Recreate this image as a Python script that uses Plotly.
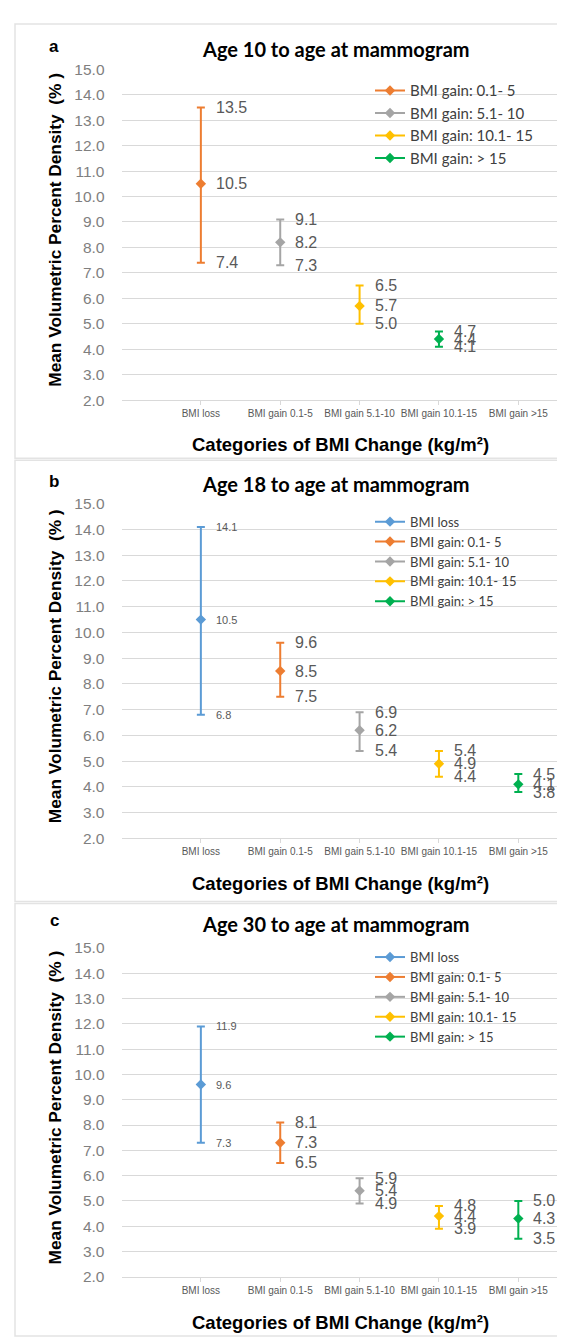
import plotly.graph_objects as go

W, H = 565, 1337

# ---------------- data ----------------
categories = ["BMI loss", "BMI gain 0.1-5", "BMI gain 5.1-10", "BMI gain 10.1-15", "BMI gain >15"]
series_names = ["BMI loss", "BMI gain: 0.1- 5", "BMI gain: 5.1- 10", "BMI gain: 10.1- 15", "BMI gain: > 15"]
series_colors = ["#5B9BD5", "#ED7D31", "#A5A5A5", "#FFC000", "#00B050"]

titles = ["Age 10 to age at mammogram", "Age 18 to age at mammogram", "Age 30 to age at mammogram"]
panel_letters = ["a", "b", "c"]
y_title = "Mean Volumetric Percent Density  (% )"
x_title = "Categories of BMI Change (kg/m²)"
y_ticks = [2, 3, 4, 5, 6, 7, 8, 9, 10, 11, 12, 13, 14, 15]

# panel a: four series (legend entries 0.1-5 ... >15) drawn at the first four categories
a_series = [1, 2, 3, 4]
a_cat = [0, 1, 2, 3]
a_mean = [10.5, 8.2, 5.7, 4.4]
a_low = [7.4, 7.3, 5.0, 4.1]
a_high = [13.5, 9.1, 6.5, 4.7]

# panel b
b_series = [0, 1, 2, 3, 4]
b_cat = [0, 1, 2, 3, 4]
b_mean = [10.5, 8.5, 6.2, 4.9, 4.1]
b_low = [6.8, 7.5, 5.4, 4.4, 3.8]
b_high = [14.1, 9.6, 6.9, 5.4, 4.5]

# panel c
c_series = [0, 1, 2, 3, 4]
c_cat = [0, 1, 2, 3, 4]
c_mean = [9.6, 7.3, 5.4, 4.4, 4.3]
c_low = [7.3, 6.5, 4.9, 3.9, 3.5]
c_high = [11.9, 8.1, 5.9, 4.8, 5.0]

panels = [
    (a_series, a_cat, a_mean, a_low, a_high),
    (b_series, b_cat, b_mean, b_low, b_high),
    (c_series, c_cat, c_mean, c_low, c_high),
]

# ---------------- layout geometry (pixels) ----------------
plot_left, plot_right = 113.5, 550
plot_tops = [53, 493, 943]
plot_bottoms = [388, 832, 1276]
boxes = [(7, 447), (449, 896), (898, 1336)]
letter_y = [30, 470, 915]
title_y = [32, 473, 919]
xtitle_y = [433, 878, 1322]
legend_top = [58, 496, 937]
legend_font = [15, 13, 13]

LABEL_GRAY = "#595959"
TICK_GRAY = "#7F7F7F"
GRID = "#D9D9D9"


def px(x):
    return x / W


def py(y):
    return 1 - y / H


fig = go.Figure()
annotations = []
shapes = []

for p, (ser, cat, mean, low, high) in enumerate(panels):
    xa = "x" if p == 0 else f"x{p+1}"
    ya = "y" if p == 0 else f"y{p+1}"
    lg = "legend" if p == 0 else f"legend{p+1}"
    for k in range(len(ser)):
        s = ser[k]
        fig.add_trace(go.Scatter(
            x=[categories[cat[k]]], y=[mean[k]],
            mode="lines+markers",
            name=series_names[s],
            legend=lg,
            xaxis=xa, yaxis=ya,
            marker=dict(symbol="diamond", size=8, color=series_colors[s]),
            line=dict(color=series_colors[s], width=2),
            error_y=dict(type="data", symmetric=False,
                         array=[high[k] - mean[k]], arrayminus=[mean[k] - low[k]],
                         color=series_colors[s], thickness=2, width=4),
            hoverinfo="skip",
        ))
        small = (p > 0 and s == 0)
        fsize = 11 if small else 16
        for v in (high[k], mean[k], low[k]):
            annotations.append(dict(
                x=categories[cat[k]], y=v, xref=xa, yref=ya,
                text=f"{v:.1f}", showarrow=False, xanchor="left", yanchor="middle",
                xshift=13, font=dict(family="Liberation Sans, Arial", size=fsize, color=LABEL_GRAY),
            ))

    dom_y = [py(plot_bottoms[p]), py(plot_tops[p])]
    xkey = "xaxis" if p == 0 else f"xaxis{p+1}"
    ykey = "yaxis" if p == 0 else f"yaxis{p+1}"
    fig.update_layout({
        xkey: dict(
            domain=[px(plot_left), px(plot_right)], anchor=ya,
            type="category", categoryorder="array", categoryarray=categories,
            range=[-1, 4.5], showgrid=False, zeroline=False,
            showline=True, linecolor=GRID, linewidth=1,
            ticks="outside", ticklen=4, tickcolor=GRID,
            tickfont=dict(family="Liberation Sans, Arial", size=10, color=LABEL_GRAY),
            fixedrange=True,
        ),
        ykey: dict(
            domain=dom_y, anchor=xa, range=[2, 15],
            tickvals=y_ticks, tickformat=".1f",
            showgrid=True, gridcolor=GRID, gridwidth=1, zeroline=False,
            showline=False, ticks="", ticklabelstandoff=16,
            tickfont=dict(family="Liberation Sans, Arial", size=15.5, color=TICK_GRAY),
            fixedrange=True,
        ),
        lg: dict(
            x=px(362), y=py(legend_top[p]), xanchor="left", yanchor="top",
            bgcolor="rgba(0,0,0,0)", borderwidth=0,
            font=dict(family="Lato, Liberation Sans", size=legend_font[p], color="#404040"),
            tracegroupgap=0, itemwidth=30,
        ),
    })

    # panel frame
    shapes.append(dict(type="rect", xref="paper", yref="paper",
                       x0=px(7), x1=px(564), y0=py(boxes[p][1]), y1=py(boxes[p][0]),
                       line=dict(color="#E3E3E3", width=1.5), layer="below"))
    # letter
    annotations.append(dict(x=px(46), y=py(letter_y[p]), xref="paper", yref="paper",
                            text=f"<b>{panel_letters[p]}</b>", showarrow=False,
                            xanchor="center", yanchor="middle",
                            font=dict(family="Liberation Sans, Arial", size=17, color="#000000")))
    # title
    annotations.append(dict(x=px(328), y=py(title_y[p]), xref="paper", yref="paper",
                            text=f"<b>{titles[p]}</b>", showarrow=False,
                            xanchor="center", yanchor="middle",
                            font=dict(family="Lato, Liberation Sans", size=20, color="#000000")))
    # x title
    annotations.append(dict(x=px(332), y=py(xtitle_y[p]), xref="paper", yref="paper",
                            text=f"<b>{x_title}</b>", showarrow=False,
                            xanchor="center", yanchor="middle",
                            font=dict(family="Liberation Sans, Arial", size=18.5, color="#000000")))
    # y title
    annotations.append(dict(x=px(47), y=py((plot_tops[p] + plot_bottoms[p]) / 2 - 5), xref="paper", yref="paper",
                            text=f"<b>{y_title}</b>", showarrow=False, textangle=-90,
                            xanchor="center", yanchor="middle",
                            font=dict(family="Liberation Sans, Arial", size=17.3, color="#000000")))

fig.update_layout(
    width=W, height=H,
    margin=dict(l=0, r=0, t=0, b=0),
    paper_bgcolor="white", plot_bgcolor="white",
    annotations=annotations, shapes=shapes,
    showlegend=True,
)

fig.write_html("out.html")
